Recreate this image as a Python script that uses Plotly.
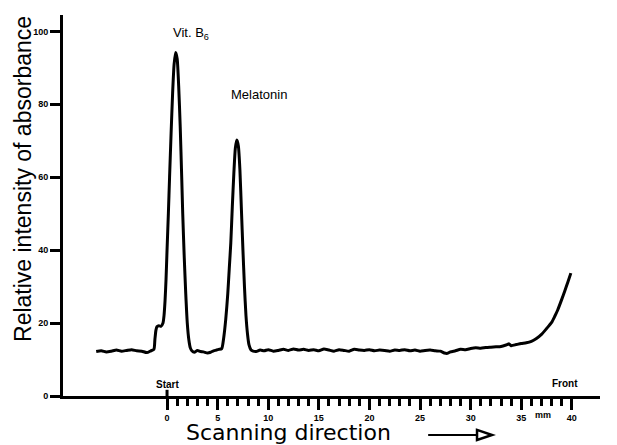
import plotly.graph_objects as go

# Scanning position (mm) and relative absorbance
scan_mm = [
    -7.0, -6.5, -6.0, -5.5, -5.0, -4.5, -4.0, -3.5, -3.0, -2.5, -2.0, -1.6, -1.3,
    -1.2, -1.1, -1.0, -0.8, -0.6, -0.4, -0.3, -0.2, -0.1, 0.0, 0.13, 0.25, 0.4,
    0.55, 0.7, 0.85, 1.0, 1.15, 1.3, 1.45, 1.55, 1.7, 1.85, 2.0, 2.15, 2.3, 2.45,
    2.7, 3.0, 3.3, 3.6, 4.0, 4.3, 4.6, 4.9, 5.1, 5.4, 5.6, 5.8, 6.0, 6.15, 6.3,
    6.45, 6.6, 6.75, 6.9, 7.05, 7.2, 7.35, 7.5, 7.65, 7.8, 7.95, 8.1, 8.3, 8.5,
    8.8, 9.2, 9.6, 10.0, 10.5, 11.0, 11.5, 12.0, 12.5, 13.0, 13.5, 14.0, 14.5,
    15.0, 15.5, 16.0, 16.5, 17.0, 17.5, 18.0, 18.5, 19.0, 19.5, 20.0, 20.5, 21.0,
    21.5, 22.0, 22.5, 23.0, 23.5, 24.0, 24.5, 25.0, 25.5, 26.0, 26.5, 27.0, 27.4,
    27.7, 28.0, 28.5, 29.0, 29.5, 30.0, 30.5, 31.0, 31.5, 32.0, 32.5, 33.0, 33.5,
    33.8, 34.0, 34.5, 35.0, 35.5, 36.0, 36.5, 37.0, 37.5, 38.0, 38.3, 38.6, 39.0,
    39.3, 39.6, 39.9,
]
absorbance = [
    12.2, 12.4, 12.1, 12.3, 12.6, 12.3, 12.5, 12.7, 12.4, 12.3, 11.9, 12.4, 12.8,
    15.5, 18.0, 19.0, 19.3, 19.1, 20.0, 22.0, 26.0, 32.0, 40.0, 50.0, 60.0, 72.0,
    83.0, 91.0, 94.2, 92.5, 85.0, 74.0, 60.0, 50.0, 38.0, 28.0, 20.0, 15.5, 13.2, 12.4,
    12.0, 12.5, 12.2, 12.1, 11.8, 12.0, 12.4, 12.6, 12.8, 13.0, 16.0, 21.0, 28.0, 35.0, 42.0,
    52.0, 61.0, 68.0, 70.2, 68.5, 62.0, 51.0, 40.0, 30.0, 22.0, 17.0, 14.0, 12.6, 12.3,
    12.2, 12.6, 12.4, 12.7, 12.3, 12.5, 12.8, 12.5, 12.9, 12.6, 12.8, 12.5, 12.7,
    12.4, 12.9, 12.6, 12.3, 12.7, 12.5, 12.3, 12.8, 12.6, 12.5, 12.7, 12.4, 12.6,
    12.5, 12.3, 12.6, 12.5, 12.7, 12.4, 12.6, 12.3, 12.5, 12.6, 12.4, 12.3, 11.8,
    11.7, 12.1, 12.4, 12.8, 12.7, 13.0, 13.2, 13.1, 13.3, 13.4, 13.5, 13.6, 14.0,
    14.3, 13.8, 14.1, 14.4, 14.6, 15.0, 15.8, 16.9, 18.5, 20.2, 21.8, 23.6, 26.5,
    28.8, 31.2, 33.7,
]

x_tick_vals = [0, 5, 10, 15, 20, 25, 30, 35, 40]
x_tick_text = ["0", "5", "10", "15", "20", "25", "30", "35", "40"]
x_minor_vals = [v for v in range(1, 40) if v % 5 != 0]
y_tick_vals = [0, 20, 40, 60, 80, 100]
y_tick_text = ["0", "20", "40", "60", "80", "100"]

peak_labels = ["Vit. B<sub>6</sub>", "Melatonin"]
peak_label_x = [2.4, 9.1]
peak_label_y = [99.5, 82.8]

fig = go.Figure()
fig.add_trace(go.Scatter(
    x=scan_mm, y=absorbance, mode="lines",
    line=dict(color="black", width=3, shape="spline", smoothing=0.6),
    hoverinfo="skip", showlegend=False,
))

tick_font = dict(family="Liberation Sans Narrow, Liberation Sans, Arial", size=9,
                 color="black", weight="bold")
small_bold = dict(family="Liberation Sans, Arial", size=10, color="black", weight="bold")

# page body has an 8 px margin, so the figure is sized to fill the remaining window
fig.update_layout(
    width=609, height=437,
    margin=dict(l=55, r=17, t=7, b=49),
    paper_bgcolor="white", plot_bgcolor="white",
    showlegend=False,
    xaxis=dict(
        range=[-10.28, 42.78], showgrid=False, zeroline=False, automargin=False,
        showline=True, linecolor="black", linewidth=3,
        tickmode="array", tickvals=x_tick_vals, ticktext=x_tick_text,
        ticks="outside", ticklen=11, tickwidth=3, tickcolor="black",
        tickfont=tick_font,
        minor=dict(tickmode="array", tickvals=x_minor_vals, ticks="outside",
                   ticklen=7, tickwidth=3, tickcolor="black", showgrid=False),
    ),
    yaxis=dict(
        range=[0, 104.5], showgrid=False, zeroline=False, automargin=False,
        showline=True, linecolor="black", linewidth=3,
        tickmode="array", tickvals=y_tick_vals, ticktext=y_tick_text,
        ticks="outside", ticklen=10, tickwidth=3, tickcolor="black",
        tickfont=tick_font,
    ),
)

for txt, px_, py_ in zip(peak_labels, peak_label_x, peak_label_y):
    fig.add_annotation(x=px_, y=py_, xref="x", yref="y", text=txt, showarrow=False,
                       xanchor="center", yanchor="middle",
                       font=dict(family="Liberation Sans, Arial", size=13, color="black"))

# Start marker and labels
fig.add_shape(type="line", x0=0, x1=0, xref="x", yref="y", y0=0, y1=1.7,
              line=dict(color="black", width=3))
fig.add_annotation(x=0, y=0.029, xref="x", yref="paper", text="Start",
                   xanchor="center", yanchor="middle", showarrow=False, font=small_bold)
fig.add_annotation(x=0.935, y=0.034, xref="paper", yref="paper", text="Front",
                   xanchor="center", yanchor="middle", showarrow=False, font=small_bold)
fig.add_annotation(x=0.894, y=-0.050, xref="paper", yref="paper", text="mm",
                   xanchor="center", yanchor="middle", showarrow=False,
                   font=dict(family="Liberation Sans, Arial", size=9,
                             color="black", weight="bold"))

# Axis titles
fig.add_annotation(x=-0.0745, y=0.5696, xref="paper", yref="paper",
                   text="Relative intensity of absorbance", textangle=-90,
                   xanchor="center", yanchor="middle", showarrow=False,
                   font=dict(family="Liberation Sans, Arial", size=23, color="black"))
fig.add_annotation(x=0.419, y=-0.095, xref="paper", yref="paper",
                   text="Scanning direction", showarrow=False,
                   xanchor="center", yanchor="middle",
                   font=dict(family="DejaVu Sans", size=22, color="black"))

# Direction arrow
fig.add_shape(type="line", xref="paper", yref="paper",
              x0=0.680, x1=0.771, y0=-0.1024, y1=-0.1024,
              line=dict(color="black", width=2))
fig.add_shape(type="path", xref="paper", yref="paper",
              path="M 0.771,-0.089 L 0.799,-0.1024 L 0.771,-0.1155 Z",
              line=dict(color="black", width=2.5), fillcolor="white")

fig.write_html("out.html")
